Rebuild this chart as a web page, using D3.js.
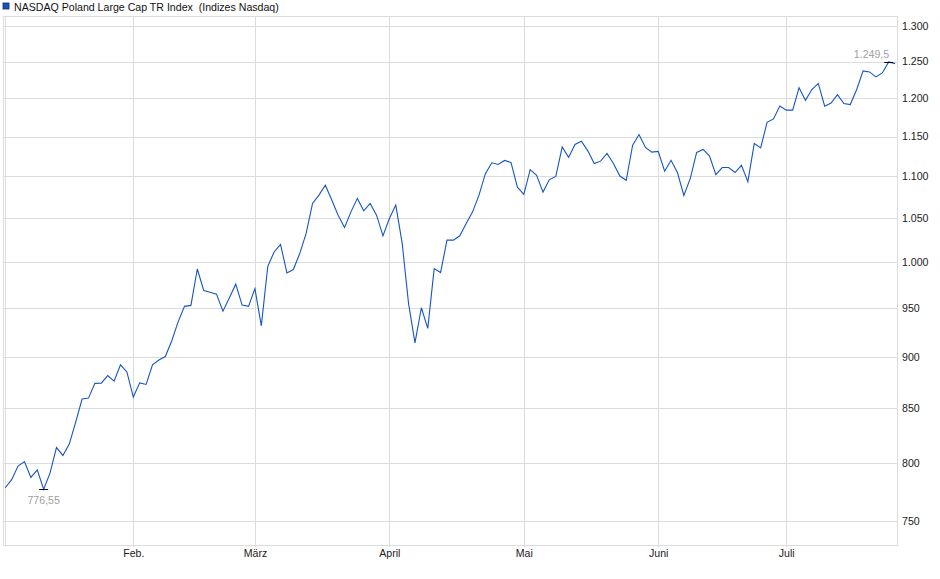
<!DOCTYPE html>
<html><head><meta charset="utf-8">
<script src="https://cdn.jsdelivr.net/npm/d3@7"></script>
<style>
html,body{margin:0;padding:0;background:#fff;}
svg{display:block;font-family:"Liberation Sans",Arial,sans-serif;}
</style></head>
<body>
<svg id="chart" width="940" height="579"></svg>
<script>
const title = "NASDAQ Poland Large Cap TR Index  (Indizes Nasdaq)";
const values = [
 778,785,797,801,787,793.7,776.55,791,813.6,806.5,
 816.7,837,858.7,859.6,873.8,874,881.4,876,892,885,
 860.6,874.3,872.8,892,896.8,900.3,916,935.7,952,953,
 992.4,969,967,965,946.9,961,975.8,953.3,952,971,
 931.6,995,1011.4,1020,988,991.8,1009.6,1032.5,1067.5,1077.4,
 1089.4,1071.5,1053.6,1039.4,1057.5,1073.5,1058.7,1067.5,1053.6,1029.7,
 1049.7,1065.5,1021.4,954.9,914.1,950.5,928.9,992.8,988.5,1024.8,
 1024.8,1029.7,1043.9,1057.5,1077.4,1103.5,1116.8,1114.8,1119.8,1117.4,
 1087,1078.4,1108.3,1101.4,1081,1096.2,1100,1136.8,1123.6,1139.8,
 1144,1131.8,1116,1118.9,1128.6,1116,1100.5,1095.3,1139,1152.5,
 1136.1,1130.2,1131.1,1106.4,1120,1104.8,1077.1,1097.4,1129.8,1133.6,
 1125.6,1102.3,1111,1111,1104.8,1113.7,1093.6,1141.1,1135.6,1168.3,
 1172.7,1189.8,1184.2,1184.2,1214.2,1197.3,1211.7,1219.9,1189.4,1193.7,
 1204.9,1193,1191.6,1211.7,1237.1,1235.7,1228.9,1234.3,1249.5,1247.1
];
const monthIndex = [0, 20, 39, 60, 81, 102, 122];
const monthLabels = ["", "Feb.", "März", "April", "Mai", "Juni", "Juli"];
const yTicks = [750, 800, 850, 900, 950, 1000, 1050, 1100, 1150, 1200, 1250, 1300];

const de = d3.formatLocale({decimal: ",", thousands: ".", grouping: [3], currency: ["", "€"]});
const fmtTick = de.format(",d");
const FS = 10.6;

const svg = d3.select("#chart");
const L = 3, R = 898, T = 16, B = 545;
const x = d3.scaleLinear().domain([0, values.length - 1]).range([5.26, 895.1]);
const y = d3.scaleLog().domain([730, 1315]).range([B, T]);

// frame
svg.append("rect").attr("x", L + 0.5).attr("y", T + 0.5).attr("width", R - L - 1).attr("height", B - T)
  .attr("fill", "none").attr("stroke", "#dcdcdc");

// horizontal grid
svg.append("g").selectAll("line").data(yTicks).join("line")
  .attr("x1", L).attr("x2", R)
  .attr("y1", d => Math.round(y(d)) + 0.5).attr("y2", d => Math.round(y(d)) + 0.5)
  .attr("stroke", "#dcdcdc");

// vertical grid
svg.append("g").selectAll("line").data(monthIndex).join("line")
  .attr("x1", d => Math.round(x(d)) + 0.5).attr("x2", d => Math.round(x(d)) + 0.5)
  .attr("y1", T).attr("y2", B + 2)
  .attr("stroke", "#dcdcdc");

// right axis labels
const yAxis = d3.axisRight(y).tickValues(yTicks).tickFormat(fmtTick).tickSize(0).tickPadding(0);
const ga = svg.append("g").attr("transform", `translate(902,0)`).call(yAxis);
ga.select(".domain").remove();
ga.selectAll("text").attr("font-size", FS).attr("fill", "#222").attr("font-family", "Liberation Sans, Arial, sans-serif");

// bottom axis labels
const xAxis = d3.axisBottom(x).tickValues(monthIndex.slice(1)).tickFormat((d, i) => monthLabels[i + 1]).tickSize(0).tickPadding(0);
const gx = svg.append("g").attr("transform", `translate(0,${B + 4.5})`).call(xAxis);
gx.select(".domain").remove();
gx.selectAll("text").attr("font-size", FS).attr("fill", "#222").attr("font-family", "Liberation Sans, Arial, sans-serif");

// line
const line = d3.line().x((d, i) => x(i)).y(d => y(d));
svg.append("path").datum(values).attr("d", line)
  .attr("fill", "none").attr("stroke", "#1655c4").attr("stroke-width", 1.1).attr("stroke-linejoin", "miter");

// min / max markers
const minI = d3.minIndex(values), maxI = d3.maxIndex(values);
const fmtMin = de.format(",.2f"), fmtMax = de.format(",.1f");
[[minI, fmtMin], [maxI, fmtMax]].forEach(([i, f], k) => {
  const px = x(i), py = Math.round(y(values[i])) + 0.5;
  svg.append("line").attr("x1", px - 4.5).attr("x2", px + 4.5).attr("y1", py).attr("y2", py)
    .attr("stroke", "#000").attr("stroke-width", 1);
  const t = svg.append("text").attr("font-size", FS).attr("fill", "#a0a0a0").text(f(values[i]));
  if (k === 0) t.attr("x", px).attr("y", py + 14.5).attr("text-anchor", "middle");
  else t.attr("x", px + 0.5).attr("y", py - 5).attr("text-anchor", "end");
});

// legend / title
svg.append("rect").attr("x", 3).attr("y", 3).attr("width", 6).attr("height", 6)
  .attr("fill", "#1c52b8").attr("stroke", "#0d2f70").attr("stroke-width", 0.8);
svg.append("text").attr("x", 14).attr("y", 10.7).attr("font-size", FS).attr("fill", "#111")
  .attr("xml:space", "preserve").style("white-space", "pre").text(title);
</script>
</body></html>
